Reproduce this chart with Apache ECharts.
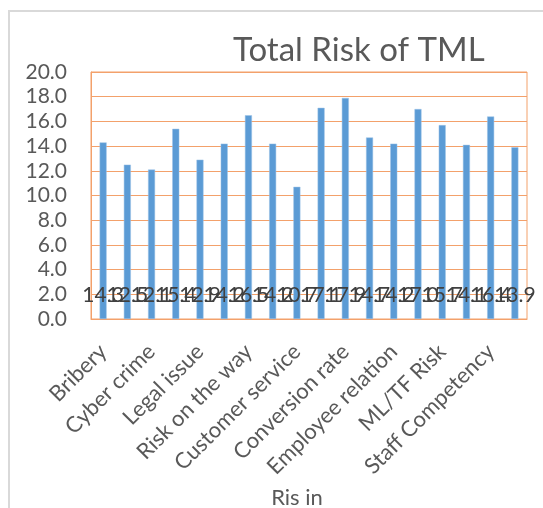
<!DOCTYPE html>
<html>
<head>
<meta charset="utf-8">
<script src="https://cdn.jsdelivr.net/npm/echarts@6/dist/echarts.min.js"></script>
<style>
  html, body { margin: 0; padding: 0; background: #ffffff; }
  #chart { width: 543px; height: 508px; }
</style>
</head>
<body>
<div id="chart"></div>
<script>
// categories (only every other name is printed on the axis)
var categories = [
  'Bribery', '', 'Cyber crime', '', 'Legal issue', '', 'Risk on the way', '',
  'Customer service', '', 'Conversion rate', '', 'Employee relation', '',
  'ML/TF Risk', '', 'Staff Competency', ''
]
var riskValues = [14.3, 12.5, 12.1, 15.4, 12.9, 14.2, 16.5, 14.2, 10.7,
  17.1, 17.9, 14.7, 14.2, 17.0, 15.7, 14.1, 16.4, 13.9]
var yTicks = { min: 0, max: 20, interval: 2 }

var myChart = echarts.init(document.getElementById('chart'))
var orange = '#F3A16B'
var font = 'Lato, "Open Sans", sans-serif'

var option = {
  backgroundColor: '#ffffff',
  animation: false,
  title: {
    text: 'Total Risk of TML',
    left: 228,
    top: 29,
    textStyle: {
      fontFamily: font,
      fontSize: 33,
      fontWeight: 'normal',
      color: '#595959'
    }
  },
  graphic: [{
    type: 'polyline',
    shape: { points: [[9, 508], [9, 11], [543, 11]] },
    style: { stroke: '#d9d9d9', lineWidth: 2, fill: null }
  }],
  grid: {
    left: 91,
    right: 16,
    top: 72,
    bottom: 189,
    containLabel: false,
    outerBoundsMode: 'none',
    show: true,
    borderColor: orange,
    borderWidth: 1
  },
  xAxis: {
    type: 'category',
    data: categories,
    name: 'Ris in',
    nameLocation: 'middle',
    nameGap: 168,
    nameTextStyle: { fontFamily: font, fontSize: 22, color: '#595959', padding: [0, 24, 0, 0] },
    axisLine: { lineStyle: { color: orange } },
    axisTick: { show: false },
    axisLabel: {
      interval: 1,
      rotate: 45,
      margin: 29,
      fontFamily: font,
      fontSize: 22,
      color: '#595959'
    }
  },
  yAxis: {
    type: 'value',
    min: yTicks.min,
    max: yTicks.max,
    interval: yTicks.interval,
    axisLine: { show: true, lineStyle: { color: orange } },
    axisTick: { show: false },
    splitLine: { lineStyle: { color: orange } },
    axisLabel: {
      margin: 24,
      fontFamily: font,
      fontSize: 21,
      color: '#595959',
      formatter: function(v) { return v.toFixed(1) }
    }
  },
  series: [{
    type: 'bar',
    data: riskValues,
    barWidth: 7,
    itemStyle: { color: '#5B9BD5', borderColor: '#9DC3E6', borderWidth: 0.5 },
    label: {
      show: true,
      position: 'insideBottom',
      distance: 13,
      fontFamily: font,
      fontSize: 21,
      color: '#404040',
      formatter: function(p) { return p.value.toFixed(1) }
    }
  }]
}

myChart.setOption(option, true)
</script>
</body>
</html>
